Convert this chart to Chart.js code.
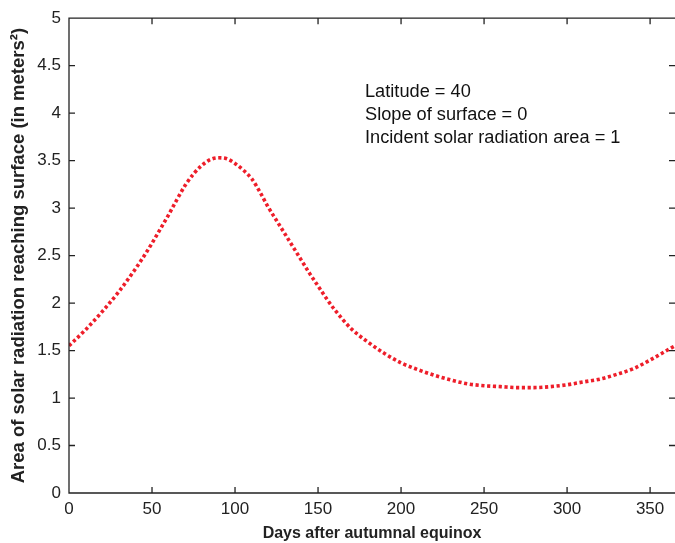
<!DOCTYPE html>
<html>
<head>
<meta charset="utf-8">
<script src="https://cdn.jsdelivr.net/npm/chart.js@4.4.1/dist/chart.umd.min.js"></script>
<style>
  html, body { margin: 0; padding: 0; background: #fff; overflow: hidden; }
  #wrap { width: 675px; height: 543px; }
</style>
</head>
<body>
<div id="wrap"><canvas id="chart"></canvas></div>
<script>
// values
var days = [0, 10, 20, 30, 40, 45, 50, 55, 60, 65, 70, 75, 80, 85, 90, 95, 100, 105, 110, 115, 120, 125, 130, 135, 140, 145, 150, 155, 160, 170, 180,
            190, 200, 210, 220, 230, 240, 250, 260, 270, 280, 290, 300, 310, 320, 330, 340, 350, 360, 365];
var area = [1.55, 1.72, 1.91, 2.12, 2.36, 2.49, 2.63, 2.78, 2.93, 3.09, 3.24, 3.36, 3.45, 3.51, 3.53, 3.52, 3.47, 3.40, 3.31, 3.17, 3.01, 2.87, 2.73, 2.59, 2.45, 2.31, 2.18, 2.05, 1.93, 1.73, 1.59,
            1.47, 1.37, 1.30, 1.24, 1.19, 1.15, 1.13, 1.12, 1.11, 1.11, 1.12, 1.14, 1.17, 1.20, 1.25, 1.31, 1.40, 1.50, 1.55];
var xTicks = [0, 50, 100, 150, 200, 250, 300, 350];
var yTicks = [0, 0.5, 1, 1.5, 2, 2.5, 3, 3.5, 4, 4.5, 5];
var notes = ['Latitude = 40', 'Slope of surface = 0', 'Incident solar radiation area = 1'];

var FONT = '"Liberation Sans", Arial, Helvetica, sans-serif';

// MATLAB style box with inward ticks, plus the text block
var boxPlugin = {
    id: 'box',
    afterDraw: function(chart) {
        var ctx = chart.ctx, a = chart.chartArea;
        var x = chart.scales.x, y = chart.scales.y;
        var t = 6;
        ctx.save();
        ctx.strokeStyle = '#222';
        ctx.lineWidth = 1.3;
        ctx.beginPath();
        ctx.moveTo(a.right, a.top);
        ctx.lineTo(a.left, a.top);
        ctx.lineTo(a.left, a.bottom);
        ctx.lineTo(a.right, a.bottom);
        xTicks.forEach(function(v) {
            var px = x.getPixelForValue(v);
            ctx.moveTo(px, a.bottom); ctx.lineTo(px, a.bottom - t);
            ctx.moveTo(px, a.top); ctx.lineTo(px, a.top + t);
        });
        yTicks.forEach(function(v) {
            var py = y.getPixelForValue(v);
            ctx.moveTo(a.left, py); ctx.lineTo(a.left + t, py);
            ctx.moveTo(a.right, py); ctx.lineTo(a.right - t, py);
        });
        ctx.stroke();

        ctx.fillStyle = '#111';
        ctx.font = '17.5px ' + FONT;
        ctx.textAlign = 'left';
        ctx.textBaseline = 'alphabetic';
        notes.forEach(function(s, i) {
            ctx.save();
            ctx.translate(365, 97 + i * 23);
            ctx.scale(1.04, 1);
            ctx.fillText(s, 0, 0);
            ctx.restore();
        });
        ctx.restore();
    }
};

var ctx = document.getElementById('chart');
var chart = new Chart(ctx, {
    type: 'line',
    data: {
        datasets: [{
            data: days.map(function(d, i) { return { x: d, y: area[i] }; }),
            borderColor: 'rgb(238, 30, 42)',
            borderWidth: 3.6,
            borderDash: [3.2, 2.6],
            borderCapStyle: 'butt',
            pointRadius: 0,
            fill: false,
            cubicInterpolationMode: 'monotone'
        }]
    },
    options: {
        responsive: true,
        maintainAspectRatio: false,
        animation: false,
        layout: { padding: { left: 0, right: 0, top: 15, bottom: 0 } },
        plugins: {
            legend: { display: false },
            tooltip: { enabled: false }
        },
        scales: {
            x: {
                type: 'linear',
                min: 0,
                max: 365,
                afterBuildTicks: function(s) { s.ticks = xTicks.map(function(v) { return { value: v }; }); },
                afterFit: function(s) { s.height = 50; },
                grid: { display: false, drawTicks: false },
                border: { display: false },
                ticks: { color: '#222', font: { family: FONT, size: 17 }, padding: 6, maxRotation: 0 },
                title: {
                    display: true,
                    text: 'Days after autumnal equinox',
                    color: '#222',
                    font: { family: FONT, size: 16, weight: 'bold' },
                    padding: { top: 0, bottom: 0 }
                }
            },
            y: {
                min: 0,
                max: 5,
                afterBuildTicks: function(s) { s.ticks = yTicks.map(function(v) { return { value: v }; }); },
                afterFit: function(s) { s.width = 69; },
                grid: { display: false, drawTicks: false },
                border: { display: false },
                ticks: {
                    color: '#222',
                    font: { family: FONT, size: 17 },
                    padding: 8,
                    callback: function(v) { return String(v); }
                },
                title: {
                    display: true,
                    text: 'Area of solar radiation reaching surface (in meters²)',
                    color: '#222',
                    font: { family: FONT, size: 18.5, weight: 'bold' },
                    padding: { top: 8, bottom: 0 }
                }
            }
        }
    },
    plugins: [boxPlugin]
});
</script>
</body>
</html>
